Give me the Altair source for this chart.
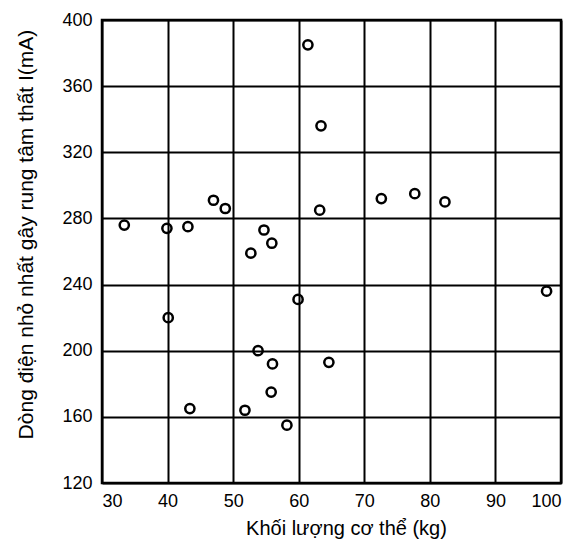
import altair as alt
import pandas as pd

mass = [61.4, 63.4, 47.0, 48.8, 63.2, 33.4, 39.9, 43.1, 54.7, 55.9, 52.7,
        72.6, 77.7, 82.3, 59.9, 40.1, 53.8, 56.0, 64.6, 55.8, 43.4, 51.8, 58.2, 97.8]
current = [385, 336, 291, 286, 285, 276, 274, 275, 273, 265, 259,
           292, 295, 290, 231, 220, 200, 192, 193, 175, 165, 164, 155, 236]

df = pd.DataFrame({"mass": mass, "current": current})

x_ticks = [30, 40, 50, 60, 70, 80, 90, 100]
y_ticks = [120, 160, 200, 240, 280, 320, 360, 400]

font = "Liberation Sans"

chart = alt.Chart(df).mark_point(
    shape="circle", filled=False, color="black", strokeWidth=2.5, size=85, opacity=1
).encode(
    x=alt.X("mass:Q", scale=alt.Scale(domain=[30, 100], nice=False, zero=False),
            axis=alt.Axis(values=x_ticks, title="Khối lượng cơ thể (kg)",
                          labelFontSize=18, titleFontSize=20, titleFontWeight="normal",
                          labelPadding=9, ticks=False, domain=False,
                          titleX=244, titleY=51, titleBaseline="alphabetic",
                          grid=True, gridColor="black", gridWidth=2, gridOpacity=1,
                          labelColor="black", titleColor="black",
                          labelFont=font, titleFont=font)),
    y=alt.Y("current:Q", scale=alt.Scale(domain=[120, 400], nice=False, zero=False),
            axis=alt.Axis(values=y_ticks, title="Dòng điện nhỏ nhất gây rung tâm thất I(mA)",
                          labelFontSize=18, titleFontSize=21, titleFontWeight="normal",
                          labelPadding=10, ticks=False, domain=False,
                          titleX=-76, titleY=214, titleBaseline="middle",
                          grid=True, gridColor="black", gridWidth=2, gridOpacity=1,
                          labelColor="black", titleColor="black",
                          labelFont=font, titleFont=font)),
).properties(
    width=459, height=463,
    autosize=alt.AutoSizeParams(type="none"),
    padding={"left": 94, "top": 12, "right": 15, "bottom": 56},
).configure_view(stroke="black", strokeWidth=2.5)

chart.save("out.html", embed_options={"renderer": "svg", "actions": False})
